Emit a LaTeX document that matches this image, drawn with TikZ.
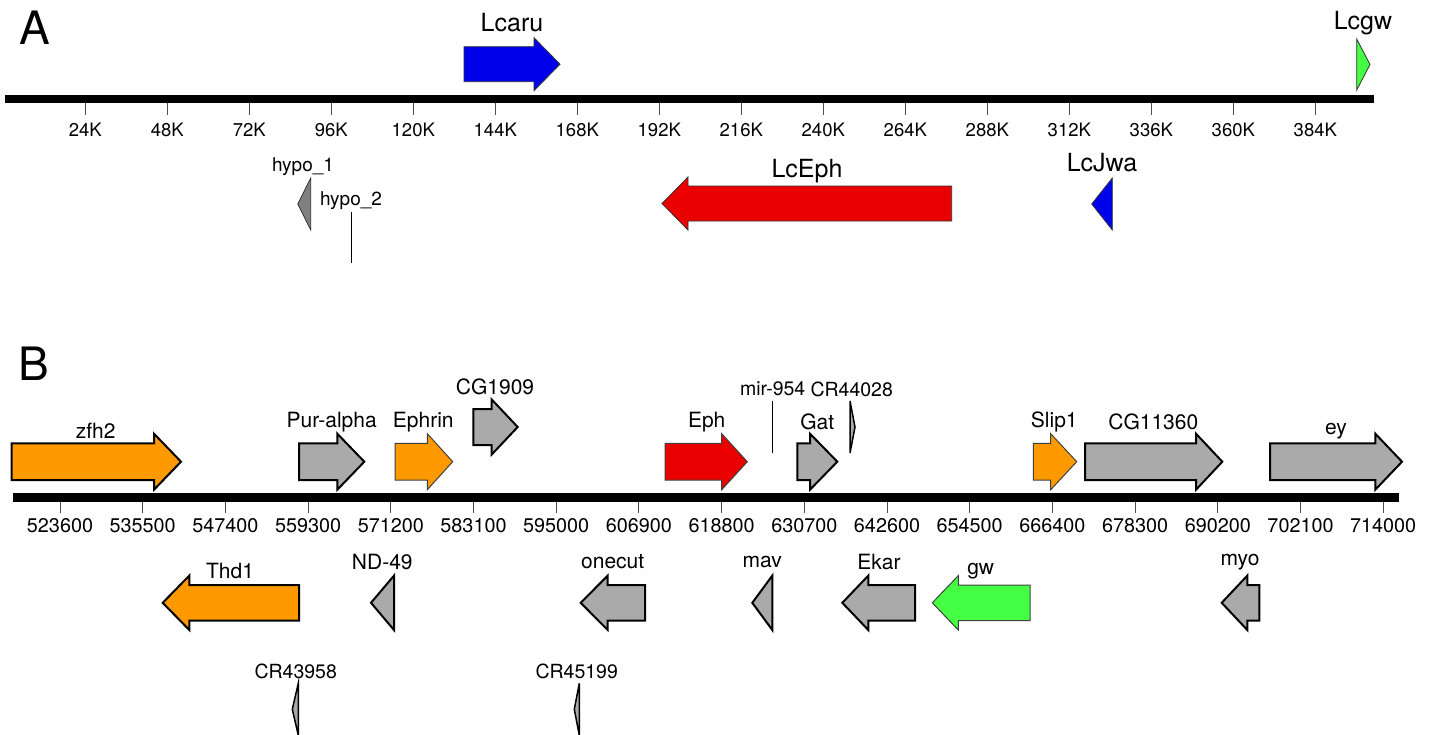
\documentclass[tikz,border=0pt]{standalone}
\usepackage{fontspec}
\setmainfont{TeX Gyre Heros}
\definecolor{gorange}{RGB}{255,153,0}
\definecolor{ggray}{RGB}{170,170,170}
\definecolor{gdgray}{RGB}{128,128,128}
\definecolor{gred}{RGB}{235,0,0}
\definecolor{gblue}{RGB}{0,0,235}
\definecolor{ggreen}{RGB}{68,255,68}
% right-pointing gene: x0, head base, tip, y centre, half body, half head, style
\newcommand{\geneR}[7]{\draw[#7] (#1,#4-#5) -- (#2,#4-#5) -- (#2,#4-#6) -- (#3,#4) -- (#2,#4+#6) -- (#2,#4+#5) -- (#1,#4+#5) -- cycle;}
% left-pointing gene: tip, head base, x1, y centre, half body, half head, style
\newcommand{\geneL}[7]{\draw[#7] (#3,#4-#5) -- (#2,#4-#5) -- (#2,#4-#6) -- (#1,#4) -- (#2,#4+#6) -- (#2,#4+#5) -- (#3,#4+#5) -- cycle;}
% triangle: base x, tip x, y centre, half height, style
\newcommand{\geneT}[5]{\draw[#5] (#1,#3-#4) -- (#2,#3) -- (#1,#3+#4) -- cycle;}
\tikzset{
  thinA/.style={draw=black!80, line width=0.8pt, line join=miter},
  thickB/.style={draw=black, line width=2pt, line join=miter},
  thinB/.style={draw=black!75, line width=1pt, line join=miter},
  panel/.style={font=\fontsize{46}{50}\selectfont},
  lblA/.style={font=\fontsize{25}{28}\selectfont, inner sep=0pt},
  lblAs/.style={font=\fontsize{19}{21}\selectfont, inner sep=0pt},
  lblB/.style={font=\fontsize{21}{24}\selectfont, inner sep=0pt},
  lblBs/.style={font=\fontsize{19.5}{22}\selectfont, inner sep=0pt},
  tickA/.style={font=\fontsize{18.5}{20}\selectfont, inner sep=0pt},
  tickB/.style={font=\fontsize{19.8}{22}\selectfont, inner sep=0pt},
}
\begin{document}
\begin{tikzpicture}[x=1pt,y=-1pt]
\useasboundingbox (0,0) rectangle (1434,734);
\fill[white] (0,0) rectangle (1434,734);
% ---------------- Panel A ----------------
\node[panel] (pA) at (35,28) {A};
\fill[black] (5,95) rectangle (1374,103.3);
\foreach \i/\t in {1/24K,2/48K,3/72K,4/96K,5/120K,6/144K,7/168K,8/192K,9/216K,10/240K,11/264K,12/288K,13/312K,14/336K,15/360K,16/384K}{
  \draw[black!70, line width=1pt] (3.3+82*\i,103) -- (3.3+82*\i,114.5);
  \node[tickA] (tA\i) at (3.3+82*\i,129.5) {\t};
}
\geneR{464}{534}{560}{64.2}{17.5}{26.5}{thinA, fill=gblue}
\node[lblA] (Lcaru) at (512,23) {Lcaru};
\geneT{1356.7}{1370}{64.5}{25.5}{thinA, fill=ggreen}
\node[lblA] (Lcgw) at (1363,23) {Lcgw};
\geneL{662}{688}{951.7}{203.5}{17.5}{26.5}{thinA, fill=gred}
\node[lblA] (LcEph) at (807,171) {LcEph};
\geneT{1112.3}{1091.7}{204}{26}{thinA, fill=gblue}
\node[lblA] (LcJwa) at (1102,163) {LcJwa};
\geneT{310.7}{297.7}{204}{26}{thinA, fill=gdgray}
\node[lblAs] (hypo1) at (303,167) {hypo\_1};
\draw[black, line width=0.9pt] (351,212) -- (351,263);
\node[lblAs] (hypo2) at (351,201) {hypo\_2};
% ---------------- Panel B ----------------
\node[panel] (pB) at (34,364) {B};
\fill[black] (13.3,492.7) rectangle (1399,501.7);
\foreach \i/\t in {0/523600,1/535500,2/547400,3/559300,4/571200,5/583100,6/595000,7/606900,8/618800,9/630700,10/642600,11/654500,12/666400,13/678300,14/690200,15/702100,16/714000}{
  \draw[black!70, line width=1pt] (60+82.7*\i,501.5) -- (60+82.7*\i,512.7);
  \node[tickB] (tB\i) at (60+82.7*\i,526) {\t};
}
% top strand
\geneR{11.7}{154}{181}{461.7}{18.3}{28}{thickB, fill=gorange}
\node[lblB] (zfh2) at (95.7,431) {zfh2};
\geneR{299}{337.3}{364.3}{461.7}{18.3}{28}{thickB, fill=ggray}
\node[lblB] (puralpha) at (331.7,422) {Pur-alpha};
\geneR{395}{427.3}{452.7}{461.7}{18.3}{28}{thinB, fill=gorange}
\node[lblB] (ephrin) at (423.3,422) {Ephrin};
\geneR{473.3}{491.7}{517.7}{427}{18}{27.5}{thickB, fill=ggray}
\node[lblB] (cg1909) at (495,387) {CG1909};
\geneR{665}{721.7}{747.3}{461.7}{18.3}{28}{thinB, fill=gred}
\node[lblB] (eph) at (706.7,422) {Eph};
\draw[black, line width=1pt] (772.7,400.7) -- (772.7,452.7);
\node[lblBs] (mir954) at (772.7,389) {mir-954};
\geneR{797.3}{810}{837.3}{461.7}{18.3}{28}{thickB, fill=ggray}
\node[lblB] (gat) at (817.3,422) {Gat};
\geneT{850}{855}{427}{26}{thickB, line width=1.5pt, fill=ggray}
\node[lblBs] (cr44028) at (851.7,389) {CR44028};
\geneR{1033.3}{1050.7}{1076.7}{461.7}{18.3}{28}{thinB, fill=gorange}
\node[lblB] (slip1) at (1054.3,422) {Slip1};
\geneR{1085}{1196}{1222.3}{461.7}{18.3}{28}{thickB, fill=ggray}
\node[lblB] (cg11360) at (1153.3,422) {CG11360};
\geneR{1270}{1375.3}{1402}{461.7}{18.3}{28}{thickB, fill=ggray}
\node[lblB] (ey) at (1336,431) {ey};
% bottom strand
\geneL{162.7}{189.3}{299}{602.8}{17.8}{27.2}{thickB, fill=gorange}
\node[lblB] (thd1) at (230,571) {Thd1};
\geneT{394}{371}{602.8}{27.2}{thickB, fill=ggray}
\node[lblB] (nd49) at (382.3,562) {ND-49};
\geneL{580.7}{607.7}{645}{602.8}{17.8}{27.2}{thickB, fill=ggray}
\node[lblB] (onecut) at (612.7,562) {onecut};
\geneT{772.3}{752.3}{602.8}{27.2}{thickB, fill=ggray}
\node[lblB] (mav) at (762.3,562) {mav};
\geneL{842.3}{868.3}{915}{602.8}{17.8}{27.2}{thickB, fill=ggray}
\node[lblB] (ekar) at (879,562) {Ekar};
\geneL{932.3}{958.3}{1030}{602.8}{17.8}{27.2}{thinB, fill=ggreen}
\node[lblB] (gw) at (980.7,571) {gw};
\geneL{1221.7}{1247.3}{1259.3}{602.8}{17.8}{27.2}{thickB, fill=ggray}
\node[lblB] (myo) at (1240,562) {myo};
\geneT{298.3}{292.3}{709.3}{26}{thickB, line width=1.5pt, fill=ggray}
\node[lblBs] (cr43958) at (295.7,671) {CR43958};
\geneT{579.3}{574.3}{709.3}{26}{thickB, line width=1.5pt, fill=ggray}
\node[lblBs] (cr45199) at (576.7,671) {CR45199};
\end{tikzpicture}
\end{document}
